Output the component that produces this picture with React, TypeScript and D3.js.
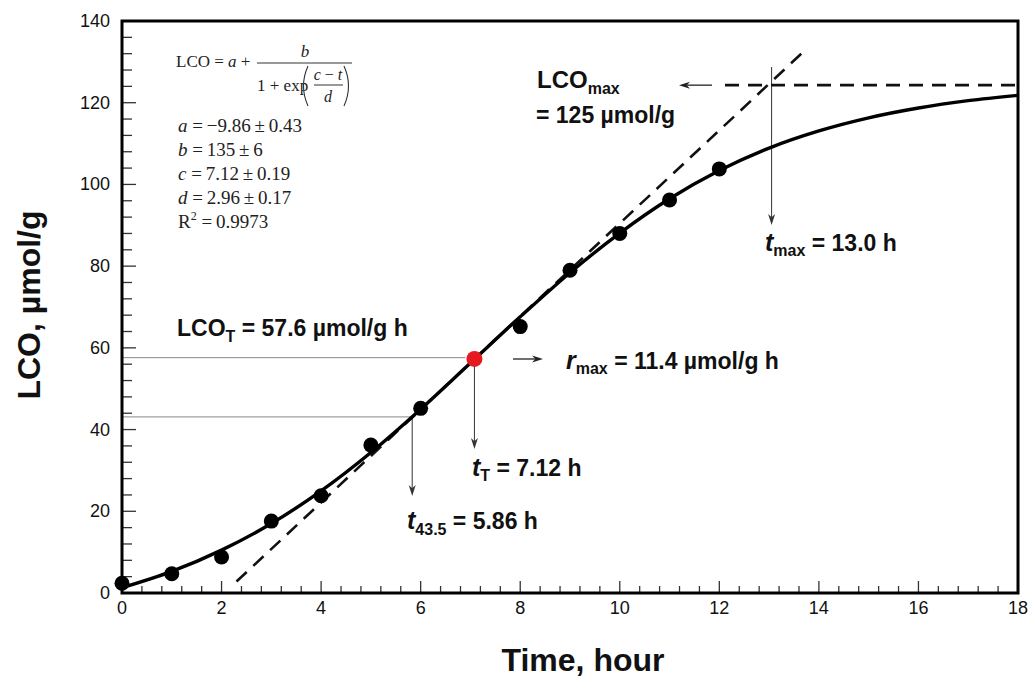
import React from 'react';
import * as d3 from 'd3';

// measured samples (black dots) and the inflection sample (red)
const obsHour = [0, 1, 2, 3, 4, 5, 6, 8, 9, 10, 11, 12];
const obsLCO = [2.4, 4.7, 8.8, 17.6, 23.8, 36.2, 45.2, 65.2, 79.0, 88.0, 96.2, 103.8];
const redPoint = [7.08, 57.3];

// fitted sigmoid, every hour
const fitHour = [0, 1, 2, 3, 4, 5, 6, 7, 8, 9, 10, 11, 12, 13, 14, 15, 16, 17, 18];
const fitLCO = [1.3, 5.3, 10.5, 17.0, 25.0, 34.4, 45.0, 56.3, 67.6, 78.4, 88.1, 96.5, 103.4, 108.9, 113.1, 116.3, 118.7, 120.5, 121.8];

// tangent at the inflection point (dashed)
const tangentHour = [2.3, 13.7];
const tangentLCO = [2.8, 132.6];

// annotation values
const lcoMax = 124.3;
const tMax = 13.05;
const lcoT = 57.6;
const tT = 7.08;
const t435 = 5.83;
const lco435 = 43.1;

const xTicks = [0, 2, 4, 6, 8, 10, 12, 14, 16, 18];
const yTicks = [0, 20, 40, 60, 80, 100, 120, 140];

const W = 1032;
const H = 681;
const left = 122, right = 1018, top = 21, bottom = 593;

const sans = 'Liberation Sans, Arial, sans-serif';
const serif = 'Liberation Serif, Times New Roman, serif';

const Arrow = ({ x1, y1, x2, y2, color = '#222', w = 1.2 }) => {
  const ang = Math.atan2(y2 - y1, x2 - x1);
  const len = 11, half = 3.5;
  const bx = x2 - len * Math.cos(ang), by = y2 - len * Math.sin(ang);
  const px = -Math.sin(ang) * half, py = Math.cos(ang) * half;
  const nx = x2 - len * 0.7 * Math.cos(ang), ny = y2 - len * 0.7 * Math.sin(ang);
  return (
    <g>
      <line x1={x1} y1={y1} x2={nx} y2={ny} stroke={color} strokeWidth={w} />
      <path d={`M${x2},${y2}L${bx + px},${by + py}L${nx},${ny}L${bx - px},${by - py}Z`} fill={color} />
    </g>
  );
};

export default function App() {
  const x = d3.scaleLinear().domain([0, 18]).range([left, right]);
  const y = d3.scaleLinear().domain([0, 140]).range([bottom, top]);

  const fitLine = d3.line<number>()
    .x((d, i) => x(fitHour[i]))
    .y(d => y(d))
    .curve(d3.curveMonotoneX);

  const xMinor = d3.range(0, 18.001, 0.4);
  const yMinor = d3.range(0, 140.001, 4);

  const bold = { fontFamily: sans, fontWeight: 700, fill: '#111' };
  const th = '\u2009';

  return (
    <svg width={W} height={H} style={{ position: 'absolute', left: 0, top: 0, background: '#fff' }}>
      {/* ticks */}
      {xMinor.map((t, i) => {
        const major = Math.abs(t / 2 - Math.round(t / 2)) < 1e-6;
        return <line key={'xm' + i} x1={x(t)} x2={x(t)} y1={bottom} y2={bottom - (major ? 12 : 7)} stroke="#333" strokeWidth={1.3} />;
      })}
      {yMinor.map((v, i) => {
        const major = v % 20 === 0;
        return <line key={'ym' + i} x1={left} x2={left + (major ? 14 : 10)} y1={y(v)} y2={y(v)} stroke="#333" strokeWidth={1.3} />;
      })}

      {/* tick labels */}
      {xTicks.map(t => (
        <text key={'xt' + t} x={x(t)} y={614} textAnchor="middle" fontFamily={sans} fontSize={18} fill="#111">{t}</text>
      ))}
      {yTicks.map(v => (
        <text key={'yt' + v} x={110} y={y(v) + 6} textAnchor="end" fontFamily={sans} fontSize={18} fill="#111">{v}</text>
      ))}

      {/* axis titles */}
      <text x={583} y={671} textAnchor="middle" {...bold} fontSize={32}>Time, hour</text>
      <text transform={`translate(40,${305}) rotate(-90)`} textAnchor="middle" {...bold} fontSize={32}>LCO, µmol/g</text>

      {/* guide lines */}
      <line x1={left} x2={x(tT) - 9} y1={y(lcoT)} y2={y(lcoT)} stroke="#888" strokeWidth={1} />
      <line x1={left} x2={x(t435)} y1={y(lco435)} y2={y(lco435)} stroke="#888" strokeWidth={1} />
      <Arrow x1={x(tT)} y1={y(lcoT) + 6} x2={x(tT)} y2={449} color="#333" w={1} />
      <Arrow x1={x(t435)} y1={y(lco435)} x2={x(t435)} y2={496} color="#333" w={1} />
      <Arrow x1={x(tMax)} y1={67} x2={x(tMax)} y2={225} color="#333" w={1} />
      <Arrow x1={712} y1={y(lcoMax)} x2={679} y2={y(lcoMax)} color="#222" w={1.3} />
      <Arrow x1={513} y1={359} x2={543} y2={359} color="#222" w={1.3} />

      {/* dashed lines */}
      <line x1={x(tangentHour[0])} y1={y(tangentLCO[0])} x2={x(tangentHour[1])} y2={y(tangentLCO[1])}
        stroke="#111" strokeWidth={2.6} strokeDasharray="14 9" />
      <line x1={725} x2={right} y1={y(lcoMax)} y2={y(lcoMax)} stroke="#111" strokeWidth={2.6} strokeDasharray="14 9" />

      {/* fitted curve */}
      <path d={fitLine(fitLCO) || ''} fill="none" stroke="#000" strokeWidth={3.4} />

      {/* samples */}
      {obsHour.map((t, i) => (
        <circle key={'o' + i} cx={x(t)} cy={y(obsLCO[i])} r={7.5} fill="#000" />
      ))}
      <circle cx={x(redPoint[0])} cy={y(redPoint[1])} r={8} fill="#e5191f" />

      {/* frame */}
      <rect x={left} y={top} width={right - left} height={bottom - top} fill="none" stroke="#000" strokeWidth={3} />

      {/* formula */}
      <g fontFamily={serif} fill="#222" fontSize={17}>
        <text x={176} y={67}>LCO = <tspan fontStyle="italic">a</tspan> +</text>
        <line x1={257} x2={352} y1={63} y2={63} stroke="#333" strokeWidth={1} />
        <text x={305} y={57} textAnchor="middle" fontStyle="italic">b</text>
        <text x={257} y={91}>1 + exp</text>
        <path d="M308,66 Q299,86 308,106" fill="none" stroke="#333" strokeWidth={1.1} />
        <path d="M344,66 Q353,86 344,106" fill="none" stroke="#333" strokeWidth={1.1} />
        <text x={328} y={80} textAnchor="middle" fontSize={16}><tspan fontStyle="italic">c</tspan> − <tspan fontStyle="italic">t</tspan></text>
        <line x1={314} x2={343} y1={85} y2={85} stroke="#333" strokeWidth={1} />
        <text x={328} y={102} textAnchor="middle" fontSize={16} fontStyle="italic">d</text>
        <g fontSize={19}>
          <text x={178} y={132}><tspan fontStyle="italic">a</tspan>{` =${th}−9.86${th}±${th}0.43`}</text>
          <text x={178} y={156}><tspan fontStyle="italic">b</tspan>{` =${th}135${th}±${th}6`}</text>
          <text x={178} y={180}><tspan fontStyle="italic">c</tspan>{` =${th}7.12${th}±${th}0.19`}</text>
          <text x={178} y={204}><tspan fontStyle="italic">d</tspan>{` =${th}2.96${th}±${th}0.17`}</text>
          <text x={178} y={228}>R<tspan dy={-8} fontSize={12}>2</tspan><tspan dy={8}>{` =${th}0.9973`}</tspan></text>
        </g>
      </g>

      {/* annotations */}
      <text x={537} y={88} {...bold} fontSize={24}>LCO<tspan dy={6} fontSize={16}>max</tspan></text>
      <text x={536} y={123} {...bold} fontSize={23}>= 125 µmol/g</text>
      <text x={765} y={251} {...bold} fontSize={23}><tspan fontStyle="italic" fontSize={25}>t</tspan><tspan dy={5} fontSize={16}>max</tspan><tspan dy={-5}> = 13.0 h</tspan></text>
      <text x={177} y={336} {...bold} fontSize={23}>LCO<tspan dy={6} fontSize={16}>T</tspan><tspan dy={-6}> = 57.6 µmol/g h</tspan></text>
      <text x={566} y={369} {...bold} fontSize={23}><tspan fontStyle="italic" fontSize={25}>r</tspan><tspan dy={5} fontSize={16}>max</tspan><tspan dy={-5}>  = 11.4 µmol/g h</tspan></text>
      <text x={472} y={476} {...bold} fontSize={23}><tspan fontStyle="italic" fontSize={25}>t</tspan><tspan dy={5} fontSize={16}>T</tspan><tspan dy={-5}> = 7.12 h</tspan></text>
      <text x={407} y={529} {...bold} fontSize={23}><tspan fontStyle="italic" fontSize={25}>t</tspan><tspan dy={6} fontSize={16}>43.5</tspan><tspan dy={-6}> = 5.86 h</tspan></text>
    </svg>
  );
}
